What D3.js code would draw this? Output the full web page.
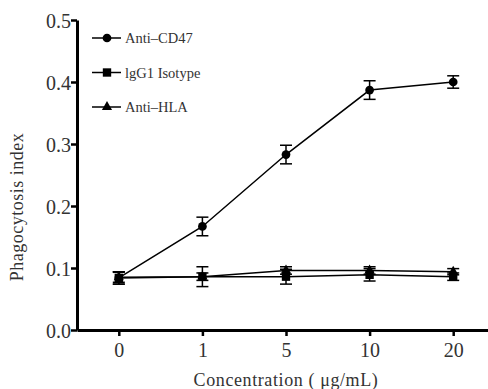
<!DOCTYPE html>
<html>
<head>
<meta charset="utf-8">
<script src="https://cdn.jsdelivr.net/npm/d3@7"></script>
<style>
  body { margin: 0; background: #fff; }
  svg text { font-family: "Liberation Serif", "Times New Roman", serif !important; fill: #333; }
</style>
</head>
<body>
<svg id="chart"></svg>
<script>
const concentrations = ["0", "1", "5", "10", "20"];
const seriesNames = ["Anti\u2013CD47", "lgG1 Isotype", "Anti\u2013HLA"];
const cd47 = [0.084, 0.167, 0.283, 0.387, 0.400];
const cd47Err = [0.010, 0.015, 0.015, 0.015, 0.010];
const igg1 = [0.084, 0.086, 0.086, 0.089, 0.086];
const igg1Err = [0.010, 0.016, 0.012, 0.010, 0.006];
const hla = [0.085, 0.086, 0.096, 0.096, 0.094];
const hlaErr = [0.008, 0.006, 0.006, 0.006, 0.005];
const yTicks = [0.0, 0.1, 0.2, 0.3, 0.4, 0.5];

const W = 488, H = 389;
const margin = { top: 20, right: 0, bottom: 59, left: 77 };

const svg = d3.select("#chart").attr("width", W).attr("height", H);

const x = d3.scalePoint()
    .domain(concentrations)
    .range([margin.left, 495])
    .padding(0.5);

const y = d3.scaleLinear()
    .domain([0, 0.5])
    .range([H - margin.bottom, margin.top]);

const series = [
    { name: seriesNames[0], values: cd47, err: cd47Err, symbol: d3.symbolCircle, size: 60 },
    { name: seriesNames[1], values: igg1, err: igg1Err, symbol: d3.symbolSquare, size: 70 },
    { name: seriesNames[2], values: hla, err: hlaErr, symbol: d3.symbolTriangle, size: 45 }
];

const line = d3.line()
    .x((d, i) => x(concentrations[i]))
    .y(d => y(d));

// draw series (HLA behind, then IgG1, then CD47)
series.slice().reverse().forEach(s => {
    const g = svg.append("g");
    g.append("path")
        .datum(s.values)
        .attr("fill", "none")
        .attr("stroke", "#000")
        .attr("stroke-width", 1.5)
        .attr("d", line);

    const pts = s.values.map((v, i) => ({ c: concentrations[i], v, e: s.err[i] }));
    const eb = g.selectAll(".eb").data(pts).enter().append("g");
    eb.append("line")
        .attr("x1", d => x(d.c)).attr("x2", d => x(d.c))
        .attr("y1", d => y(d.v - d.e)).attr("y2", d => y(d.v + d.e))
        .attr("stroke", "#000").attr("stroke-width", 1.5);
    [-1, 1].forEach(sgn => {
        eb.append("line")
            .attr("x1", d => x(d.c) - 6).attr("x2", d => x(d.c) + 6)
            .attr("y1", d => y(d.v + sgn * d.e)).attr("y2", d => y(d.v + sgn * d.e))
            .attr("stroke", "#000").attr("stroke-width", 1.5);
    });

    g.selectAll(".pt").data(pts).enter().append("path")
        .attr("transform", d => `translate(${x(d.c)},${y(d.v)})`)
        .attr("d", d3.symbol().type(s.symbol).size(s.size))
        .attr("fill", "#000");
});

// axes
const yAxis = svg.append("g")
    .attr("transform", `translate(${margin.left},0)`)
    .call(d3.axisLeft(y).tickValues(yTicks).tickFormat(d3.format(".1f")).tickSize(6).tickSizeOuter(0));
const xAxis = svg.append("g")
    .attr("transform", `translate(0,${H - margin.bottom})`)
    .call(d3.axisBottom(x).tickSize(6).tickSizeOuter(0));

[yAxis, xAxis].forEach(a => {
    a.attr("font-family", null);
    a.select(".domain").attr("stroke", "#000").attr("stroke-width", 3);
    a.selectAll(".tick line").attr("stroke", "#000").attr("stroke-width", 2.5);
    a.selectAll(".tick text").style("font-size", "20px").attr("fill", "#333");
});
yAxis.selectAll(".tick text").attr("x", -6).attr("dy", "0.35em");
xAxis.selectAll(".tick text").attr("y", 13);

svg.append("text")
    .attr("x", 286)
    .attr("y", 386)
    .attr("text-anchor", "middle")
    .style("font-size", "18px")
    .style("letter-spacing", "0.6px")
    .text("Concentration\u00a0(\u00a0\u03bcg/mL)");

svg.append("text")
    .attr("transform", "translate(23,207) rotate(-90)")
    .attr("text-anchor", "middle")
    .style("font-size", "18px")
    .style("letter-spacing", "0.5px")
    .text("Phagocytosis index");

// legend
const legend = svg.append("g");
series.forEach((s, i) => {
    const ly = 38 + i * 34.5;
    legend.append("line")
        .attr("x1", 92).attr("x2", 121)
        .attr("y1", ly).attr("y2", ly)
        .attr("stroke", "#000").attr("stroke-width", 1.5);
    legend.append("path")
        .attr("transform", `translate(107,${ly})`)
        .attr("d", d3.symbol().type(s.symbol).size(s.size))
        .attr("fill", "#000");
    legend.append("text")
        .attr("x", 125)
        .attr("y", ly + 5)
        .style("font-size", "14.5px")
        .text(s.name);
});
</script>
</body>
</html>
